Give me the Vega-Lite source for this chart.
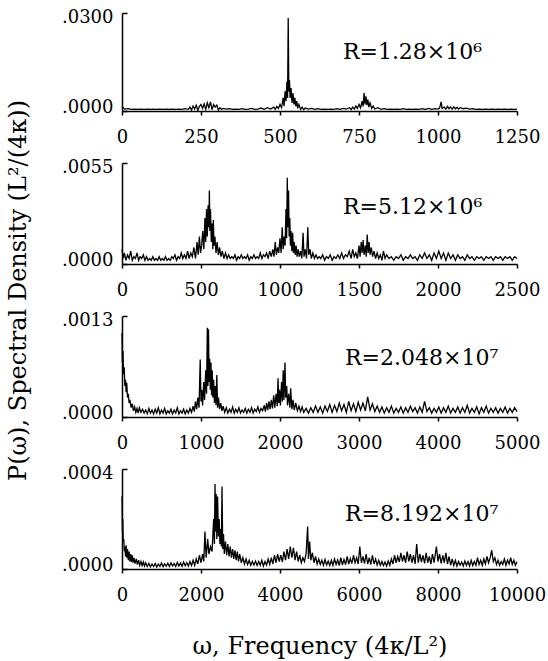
{
"$schema": "https://vega.github.io/schema/vega-lite/v6.json",
"background": "white",
"padding": {"left": 5, "top": 8, "right": 5, "bottom": 5},
"spacing": 52,
"bounds": "flush",
"config": {
  "view": {"stroke": null},
  "axis": {"grid": false, "domainColor": "black", "domainWidth": 1.5, "tickColor": "black", "tickWidth": 1.5, "labelColor": "black", "labelFont": "DejaVu Serif", "labelFontSize": 18, "titleFont": "DejaVu Serif", "titleFontWeight": "normal", "titleColor": "black", "titleFontSize": 24, "labelFlush": false, "labelOverlap": false},
  "axisX": {"tickSize": 4, "labelPadding": 13, "format": "d"},
  "axisY": {"tickSize": -5, "labelPadding": 14, "labelOffset": {"condition": {"test": "datum.value == 0", "value": -4}, "value": 4}, "labelExpr": "substring(format(datum.value, '.4f'), 1)"},
  "text": {"font": "DejaVu Serif", "fontSize": 22, "color": "black", "align": "left", "baseline": "middle"},
  "line": {"color": "black", "strokeWidth": 1.3, "clip": true}
},
"datasets": {
"p1": [{"w":0,"v":14e-4},{"w":5,"v":8e-4},{"w":10,"v":6e-4},{"w":20,"v":7e-4},{"w":30,"v":5e-4},{"w":40,"v":6e-4},{"w":50,"v":5e-4},{"w":60,"v":6e-4},{"w":70,"v":5e-4},{"w":80,"v":6e-4},{"w":90,"v":5e-4},{"w":100,"v":6e-4},{"w":110,"v":5e-4},{"w":120,"v":6e-4},{"w":130,"v":5e-4},{"w":140,"v":6e-4},{"w":150,"v":5e-4},{"w":160,"v":6e-4},{"w":170,"v":5e-4},{"w":180,"v":6e-4},{"w":190,"v":5e-4},{"w":200,"v":7e-4},{"w":210,"v":5e-4},{"w":215,"v":12e-4},{"w":220,"v":3e-4},{"w":225,"v":15e-4},{"w":230,"v":6e-4},{"w":235,"v":18e-4},{"w":240,"v":2e-4},{"w":245,"v":14e-4},{"w":250,"v":20e-4},{"w":255,"v":8e-4},{"w":260,"v":22e-4},{"w":265,"v":5e-4},{"w":270,"v":25e-4},{"w":275,"v":10e-4},{"w":280,"v":28e-4},{"w":285,"v":4e-4},{"w":290,"v":20e-4},{"w":295,"v":12e-4},{"w":300,"v":18e-4},{"w":305,"v":3e-4},{"w":310,"v":10e-4},{"w":315,"v":5e-4},{"w":320,"v":8e-4},{"w":330,"v":6e-4},{"w":340,"v":7e-4},{"w":350,"v":5e-4},{"w":360,"v":6e-4},{"w":370,"v":5e-4},{"w":380,"v":7e-4},{"w":390,"v":5e-4},{"w":400,"v":6e-4},{"w":410,"v":8e-4},{"w":420,"v":5e-4},{"w":430,"v":6e-4},{"w":440,"v":9e-4},{"w":450,"v":5e-4},{"w":460,"v":10e-4},{"w":470,"v":6e-4},{"w":480,"v":12e-4},{"w":485,"v":5e-4},{"w":490,"v":14e-4},{"w":495,"v":8e-4},{"w":500,"v":20e-4},{"w":505,"v":10e-4},{"w":510,"v":40e-4},{"w":513,"v":15e-4},{"w":516,"v":60e-4},{"w":519,"v":30e-4},{"w":522,"v":90e-4},{"w":524,"v":40e-4},{"w":526,"v":285e-4},{"w":528,"v":60e-4},{"w":530,"v":95e-4},{"w":532,"v":40e-4},{"w":535,"v":70e-4},{"w":538,"v":25e-4},{"w":541,"v":55e-4},{"w":544,"v":20e-4},{"w":547,"v":40e-4},{"w":550,"v":15e-4},{"w":553,"v":30e-4},{"w":556,"v":8e-4},{"w":560,"v":20e-4},{"w":565,"v":5e-4},{"w":570,"v":12e-4},{"w":575,"v":4e-4},{"w":580,"v":9e-4},{"w":590,"v":6e-4},{"w":600,"v":8e-4},{"w":610,"v":5e-4},{"w":620,"v":7e-4},{"w":630,"v":5e-4},{"w":640,"v":6e-4},{"w":650,"v":5e-4},{"w":660,"v":6e-4},{"w":670,"v":5e-4},{"w":680,"v":7e-4},{"w":690,"v":5e-4},{"w":700,"v":8e-4},{"w":710,"v":6e-4},{"w":720,"v":10e-4},{"w":725,"v":4e-4},{"w":730,"v":12e-4},{"w":735,"v":6e-4},{"w":740,"v":15e-4},{"w":745,"v":8e-4},{"w":750,"v":20e-4},{"w":755,"v":10e-4},{"w":760,"v":30e-4},{"w":763,"v":14e-4},{"w":766,"v":55e-4},{"w":769,"v":20e-4},{"w":772,"v":45e-4},{"w":775,"v":18e-4},{"w":778,"v":35e-4},{"w":781,"v":12e-4},{"w":785,"v":25e-4},{"w":790,"v":8e-4},{"w":795,"v":15e-4},{"w":800,"v":6e-4},{"w":810,"v":10e-4},{"w":820,"v":5e-4},{"w":830,"v":7e-4},{"w":840,"v":5e-4},{"w":850,"v":6e-4},{"w":860,"v":5e-4},{"w":870,"v":6e-4},{"w":880,"v":5e-4},{"w":890,"v":7e-4},{"w":900,"v":5e-4},{"w":910,"v":6e-4},{"w":920,"v":5e-4},{"w":930,"v":6e-4},{"w":940,"v":5e-4},{"w":950,"v":7e-4},{"w":960,"v":5e-4},{"w":970,"v":8e-4},{"w":980,"v":5e-4},{"w":990,"v":7e-4},{"w":1000,"v":6e-4},{"w":1005,"v":9e-4},{"w":1010,"v":28e-4},{"w":1013,"v":8e-4},{"w":1020,"v":12e-4},{"w":1025,"v":6e-4},{"w":1030,"v":14e-4},{"w":1035,"v":7e-4},{"w":1040,"v":12e-4},{"w":1045,"v":6e-4},{"w":1050,"v":13e-4},{"w":1055,"v":7e-4},{"w":1060,"v":11e-4},{"w":1065,"v":6e-4},{"w":1070,"v":10e-4},{"w":1080,"v":7e-4},{"w":1090,"v":9e-4},{"w":1100,"v":6e-4},{"w":1110,"v":7e-4},{"w":1120,"v":5e-4},{"w":1130,"v":6e-4},{"w":1140,"v":5e-4},{"w":1150,"v":6e-4},{"w":1160,"v":5e-4},{"w":1170,"v":6e-4},{"w":1180,"v":5e-4},{"w":1190,"v":6e-4},{"w":1200,"v":5e-4},{"w":1210,"v":6e-4},{"w":1220,"v":5e-4},{"w":1230,"v":6e-4},{"w":1240,"v":5e-4},{"w":1250,"v":6e-4}],
"p2": [{"w":0,"v":8e-4},{"w":8,"v":3e-4},{"w":15,"v":6e-4},{"w":25,"v":2e-4},{"w":35,"v":5e-4},{"w":45,"v":3e-4},{"w":55,"v":7e-4},{"w":65,"v":2e-4},{"w":75,"v":4e-4},{"w":85,"v":3e-4},{"w":95,"v":6e-4},{"w":105,"v":2e-4},{"w":115,"v":4e-4},{"w":125,"v":3e-4},{"w":135,"v":5e-4},{"w":145,"v":2e-4},{"w":155,"v":4e-4},{"w":165,"v":2e-4},{"w":175,"v":3e-4},{"w":185,"v":2e-4},{"w":195,"v":4e-4},{"w":205,"v":2e-4},{"w":215,"v":3e-4},{"w":225,"v":2e-4},{"w":235,"v":4e-4},{"w":245,"v":2e-4},{"w":255,"v":3e-4},{"w":265,"v":2e-4},{"w":275,"v":4e-4},{"w":285,"v":2e-4},{"w":295,"v":3e-4},{"w":305,"v":2e-4},{"w":315,"v":4e-4},{"w":325,"v":3e-4},{"w":335,"v":5e-4},{"w":345,"v":2e-4},{"w":355,"v":4e-4},{"w":365,"v":3e-4},{"w":375,"v":6e-4},{"w":385,"v":3e-4},{"w":395,"v":5e-4},{"w":405,"v":3e-4},{"w":415,"v":7e-4},{"w":425,"v":3e-4},{"w":435,"v":6e-4},{"w":445,"v":4e-4},{"w":455,"v":9e-4},{"w":465,"v":3e-4},{"w":475,"v":12e-4},{"w":482,"v":5e-4},{"w":490,"v":15e-4},{"w":497,"v":6e-4},{"w":504,"v":10e-4},{"w":511,"v":18e-4},{"w":518,"v":8e-4},{"w":525,"v":25e-4},{"w":530,"v":12e-4},{"w":535,"v":30e-4},{"w":540,"v":15e-4},{"w":545,"v":32e-4},{"w":550,"v":20e-4},{"w":553,"v":40e-4},{"w":556,"v":18e-4},{"w":560,"v":30e-4},{"w":565,"v":12e-4},{"w":570,"v":22e-4},{"w":575,"v":8e-4},{"w":578,"v":24e-4},{"w":582,"v":10e-4},{"w":588,"v":15e-4},{"w":595,"v":6e-4},{"w":602,"v":12e-4},{"w":610,"v":5e-4},{"w":618,"v":9e-4},{"w":626,"v":4e-4},{"w":635,"v":7e-4},{"w":645,"v":3e-4},{"w":655,"v":6e-4},{"w":665,"v":3e-4},{"w":675,"v":5e-4},{"w":685,"v":3e-4},{"w":695,"v":4e-4},{"w":705,"v":3e-4},{"w":715,"v":5e-4},{"w":725,"v":2e-4},{"w":735,"v":4e-4},{"w":745,"v":3e-4},{"w":755,"v":5e-4},{"w":765,"v":3e-4},{"w":775,"v":4e-4},{"w":785,"v":3e-4},{"w":795,"v":5e-4},{"w":805,"v":2e-4},{"w":815,"v":4e-4},{"w":825,"v":3e-4},{"w":835,"v":5e-4},{"w":845,"v":3e-4},{"w":855,"v":4e-4},{"w":865,"v":3e-4},{"w":875,"v":6e-4},{"w":885,"v":3e-4},{"w":895,"v":5e-4},{"w":905,"v":4e-4},{"w":915,"v":6e-4},{"w":925,"v":3e-4},{"w":935,"v":7e-4},{"w":945,"v":4e-4},{"w":955,"v":8e-4},{"w":962,"v":4e-4},{"w":970,"v":12e-4},{"w":977,"v":5e-4},{"w":985,"v":9e-4},{"w":992,"v":6e-4},{"w":1000,"v":14e-4},{"w":1007,"v":6e-4},{"w":1014,"v":20e-4},{"w":1020,"v":8e-4},{"w":1026,"v":15e-4},{"w":1032,"v":10e-4},{"w":1038,"v":30e-4},{"w":1042,"v":14e-4},{"w":1046,"v":47e-4},{"w":1050,"v":20e-4},{"w":1054,"v":40e-4},{"w":1058,"v":15e-4},{"w":1062,"v":25e-4},{"w":1066,"v":10e-4},{"w":1070,"v":18e-4},{"w":1075,"v":7e-4},{"w":1080,"v":17e-4},{"w":1085,"v":6e-4},{"w":1090,"v":12e-4},{"w":1096,"v":5e-4},{"w":1102,"v":10e-4},{"w":1108,"v":4e-4},{"w":1115,"v":8e-4},{"w":1122,"v":4e-4},{"w":1130,"v":7e-4},{"w":1138,"v":3e-4},{"w":1146,"v":17e-4},{"w":1152,"v":4e-4},{"w":1160,"v":8e-4},{"w":1168,"v":3e-4},{"w":1176,"v":20e-4},{"w":1182,"v":5e-4},{"w":1190,"v":8e-4},{"w":1198,"v":3e-4},{"w":1208,"v":6e-4},{"w":1218,"v":3e-4},{"w":1228,"v":5e-4},{"w":1238,"v":3e-4},{"w":1248,"v":4e-4},{"w":1258,"v":3e-4},{"w":1270,"v":5e-4},{"w":1282,"v":2e-4},{"w":1294,"v":4e-4},{"w":1306,"v":3e-4},{"w":1318,"v":5e-4},{"w":1330,"v":2e-4},{"w":1342,"v":4e-4},{"w":1354,"v":3e-4},{"w":1366,"v":5e-4},{"w":1378,"v":3e-4},{"w":1390,"v":6e-4},{"w":1402,"v":3e-4},{"w":1414,"v":5e-4},{"w":1426,"v":4e-4},{"w":1438,"v":7e-4},{"w":1450,"v":3e-4},{"w":1460,"v":8e-4},{"w":1470,"v":4e-4},{"w":1480,"v":6e-4},{"w":1490,"v":3e-4},{"w":1500,"v":10e-4},{"w":1507,"v":4e-4},{"w":1514,"v":12e-4},{"w":1520,"v":6e-4},{"w":1526,"v":13e-4},{"w":1532,"v":5e-4},{"w":1540,"v":10e-4},{"w":1546,"v":4e-4},{"w":1552,"v":16e-4},{"w":1558,"v":6e-4},{"w":1564,"v":12e-4},{"w":1570,"v":5e-4},{"w":1578,"v":9e-4},{"w":1586,"v":4e-4},{"w":1595,"v":7e-4},{"w":1605,"v":3e-4},{"w":1615,"v":6e-4},{"w":1625,"v":3e-4},{"w":1635,"v":5e-4},{"w":1645,"v":2e-4},{"w":1655,"v":7e-4},{"w":1665,"v":3e-4},{"w":1675,"v":5e-4},{"w":1690,"v":3e-4},{"w":1705,"v":4e-4},{"w":1720,"v":2e-4},{"w":1735,"v":4e-4},{"w":1750,"v":3e-4},{"w":1765,"v":5e-4},{"w":1780,"v":2e-4},{"w":1795,"v":4e-4},{"w":1810,"v":3e-4},{"w":1825,"v":5e-4},{"w":1840,"v":3e-4},{"w":1855,"v":4e-4},{"w":1870,"v":2e-4},{"w":1885,"v":5e-4},{"w":1900,"v":3e-4},{"w":1915,"v":6e-4},{"w":1930,"v":3e-4},{"w":1945,"v":5e-4},{"w":1960,"v":2e-4},{"w":1975,"v":6e-4},{"w":1990,"v":3e-4},{"w":2005,"v":7e-4},{"w":2020,"v":3e-4},{"w":2035,"v":6e-4},{"w":2050,"v":2e-4},{"w":2065,"v":6e-4},{"w":2080,"v":3e-4},{"w":2095,"v":5e-4},{"w":2110,"v":2e-4},{"w":2125,"v":5e-4},{"w":2140,"v":3e-4},{"w":2155,"v":4e-4},{"w":2170,"v":2e-4},{"w":2185,"v":5e-4},{"w":2200,"v":3e-4},{"w":2215,"v":4e-4},{"w":2230,"v":2e-4},{"w":2245,"v":4e-4},{"w":2260,"v":3e-4},{"w":2275,"v":4e-4},{"w":2290,"v":2e-4},{"w":2305,"v":4e-4},{"w":2320,"v":3e-4},{"w":2335,"v":4e-4},{"w":2350,"v":2e-4},{"w":2365,"v":4e-4},{"w":2380,"v":3e-4},{"w":2395,"v":4e-4},{"w":2410,"v":2e-4},{"w":2425,"v":4e-4},{"w":2440,"v":3e-4},{"w":2455,"v":4e-4},{"w":2470,"v":2e-4},{"w":2485,"v":4e-4},{"w":2500,"v":3e-4}],
"p3": [{"w":0,"v":108e-5},{"w":5,"v":70e-5},{"w":12,"v":85e-5},{"w":20,"v":55e-5},{"w":28,"v":64e-5},{"w":36,"v":40e-5},{"w":44,"v":48e-5},{"w":52,"v":32e-5},{"w":60,"v":44e-5},{"w":70,"v":25e-5},{"w":80,"v":30e-5},{"w":90,"v":18e-5},{"w":100,"v":22e-5},{"w":115,"v":12e-5},{"w":130,"v":17e-5},{"w":145,"v":8e-5},{"w":160,"v":13e-5},{"w":175,"v":6e-5},{"w":190,"v":11e-5},{"w":205,"v":5e-5},{"w":220,"v":12e-5},{"w":240,"v":6e-5},{"w":260,"v":10e-5},{"w":280,"v":5e-5},{"w":300,"v":9e-5},{"w":320,"v":4e-5},{"w":340,"v":11e-5},{"w":360,"v":5e-5},{"w":380,"v":9e-5},{"w":400,"v":4e-5},{"w":420,"v":10e-5},{"w":440,"v":5e-5},{"w":460,"v":12e-5},{"w":480,"v":4e-5},{"w":500,"v":9e-5},{"w":520,"v":5e-5},{"w":540,"v":11e-5},{"w":560,"v":4e-5},{"w":580,"v":8e-5},{"w":600,"v":5e-5},{"w":620,"v":10e-5},{"w":640,"v":4e-5},{"w":660,"v":9e-5},{"w":680,"v":5e-5},{"w":700,"v":12e-5},{"w":720,"v":4e-5},{"w":740,"v":8e-5},{"w":760,"v":5e-5},{"w":780,"v":10e-5},{"w":800,"v":4e-5},{"w":820,"v":9e-5},{"w":840,"v":5e-5},{"w":860,"v":11e-5},{"w":880,"v":6e-5},{"w":900,"v":14e-5},{"w":915,"v":7e-5},{"w":930,"v":20e-5},{"w":945,"v":10e-5},{"w":960,"v":25e-5},{"w":975,"v":12e-5},{"w":990,"v":74e-5},{"w":1000,"v":20e-5},{"w":1010,"v":35e-5},{"w":1020,"v":15e-5},{"w":1035,"v":45e-5},{"w":1045,"v":22e-5},{"w":1060,"v":60e-5},{"w":1070,"v":30e-5},{"w":1080,"v":115e-5},{"w":1088,"v":40e-5},{"w":1095,"v":113e-5},{"w":1102,"v":45e-5},{"w":1110,"v":75e-5},{"w":1118,"v":35e-5},{"w":1126,"v":70e-5},{"w":1134,"v":28e-5},{"w":1142,"v":60e-5},{"w":1150,"v":25e-5},{"w":1160,"v":48e-5},{"w":1170,"v":18e-5},{"w":1180,"v":40e-5},{"w":1190,"v":15e-5},{"w":1200,"v":54e-5},{"w":1210,"v":12e-5},{"w":1222,"v":25e-5},{"w":1235,"v":10e-5},{"w":1250,"v":18e-5},{"w":1265,"v":8e-5},{"w":1280,"v":14e-5},{"w":1300,"v":6e-5},{"w":1320,"v":12e-5},{"w":1340,"v":5e-5},{"w":1360,"v":10e-5},{"w":1380,"v":6e-5},{"w":1400,"v":13e-5},{"w":1420,"v":5e-5},{"w":1440,"v":10e-5},{"w":1460,"v":6e-5},{"w":1480,"v":12e-5},{"w":1500,"v":5e-5},{"w":1520,"v":9e-5},{"w":1540,"v":6e-5},{"w":1560,"v":11e-5},{"w":1580,"v":5e-5},{"w":1600,"v":10e-5},{"w":1620,"v":6e-5},{"w":1640,"v":12e-5},{"w":1660,"v":5e-5},{"w":1680,"v":10e-5},{"w":1700,"v":7e-5},{"w":1720,"v":13e-5},{"w":1740,"v":6e-5},{"w":1760,"v":11e-5},{"w":1780,"v":8e-5},{"w":1800,"v":15e-5},{"w":1815,"v":7e-5},{"w":1830,"v":18e-5},{"w":1845,"v":9e-5},{"w":1860,"v":20e-5},{"w":1875,"v":10e-5},{"w":1890,"v":22e-5},{"w":1905,"v":11e-5},{"w":1920,"v":28e-5},{"w":1935,"v":12e-5},{"w":1950,"v":30e-5},{"w":1965,"v":14e-5},{"w":1975,"v":50e-5},{"w":1985,"v":18e-5},{"w":1995,"v":35e-5},{"w":2005,"v":15e-5},{"w":2020,"v":45e-5},{"w":2030,"v":20e-5},{"w":2040,"v":60e-5},{"w":2050,"v":22e-5},{"w":2063,"v":70e-5},{"w":2072,"v":25e-5},{"w":2085,"v":40e-5},{"w":2095,"v":15e-5},{"w":2110,"v":30e-5},{"w":2125,"v":12e-5},{"w":2135,"v":37e-5},{"w":2150,"v":10e-5},{"w":2165,"v":22e-5},{"w":2180,"v":9e-5},{"w":2200,"v":18e-5},{"w":2220,"v":8e-5},{"w":2240,"v":14e-5},{"w":2260,"v":7e-5},{"w":2280,"v":13e-5},{"w":2300,"v":6e-5},{"w":2330,"v":11e-5},{"w":2360,"v":5e-5},{"w":2390,"v":12e-5},{"w":2420,"v":6e-5},{"w":2450,"v":14e-5},{"w":2480,"v":6e-5},{"w":2510,"v":13e-5},{"w":2540,"v":5e-5},{"w":2570,"v":14e-5},{"w":2600,"v":7e-5},{"w":2630,"v":16e-5},{"w":2660,"v":6e-5},{"w":2690,"v":15e-5},{"w":2720,"v":7e-5},{"w":2750,"v":18e-5},{"w":2780,"v":8e-5},{"w":2810,"v":16e-5},{"w":2840,"v":6e-5},{"w":2870,"v":20e-5},{"w":2900,"v":8e-5},{"w":2930,"v":17e-5},{"w":2960,"v":7e-5},{"w":2990,"v":19e-5},{"w":3020,"v":9e-5},{"w":3050,"v":18e-5},{"w":3080,"v":8e-5},{"w":3110,"v":26e-5},{"w":3140,"v":9e-5},{"w":3170,"v":17e-5},{"w":3200,"v":7e-5},{"w":3230,"v":14e-5},{"w":3260,"v":6e-5},{"w":3290,"v":13e-5},{"w":3320,"v":5e-5},{"w":3350,"v":12e-5},{"w":3380,"v":6e-5},{"w":3410,"v":14e-5},{"w":3440,"v":5e-5},{"w":3470,"v":11e-5},{"w":3500,"v":6e-5},{"w":3530,"v":13e-5},{"w":3560,"v":5e-5},{"w":3590,"v":12e-5},{"w":3620,"v":6e-5},{"w":3650,"v":14e-5},{"w":3680,"v":7e-5},{"w":3710,"v":12e-5},{"w":3740,"v":5e-5},{"w":3770,"v":13e-5},{"w":3800,"v":6e-5},{"w":3830,"v":20e-5},{"w":3860,"v":7e-5},{"w":3890,"v":12e-5},{"w":3920,"v":5e-5},{"w":3950,"v":11e-5},{"w":3980,"v":6e-5},{"w":4010,"v":13e-5},{"w":4040,"v":5e-5},{"w":4070,"v":12e-5},{"w":4100,"v":6e-5},{"w":4130,"v":14e-5},{"w":4160,"v":5e-5},{"w":4190,"v":11e-5},{"w":4220,"v":6e-5},{"w":4250,"v":13e-5},{"w":4280,"v":5e-5},{"w":4310,"v":12e-5},{"w":4340,"v":6e-5},{"w":4370,"v":15e-5},{"w":4400,"v":5e-5},{"w":4430,"v":11e-5},{"w":4460,"v":6e-5},{"w":4490,"v":13e-5},{"w":4520,"v":4e-5},{"w":4550,"v":12e-5},{"w":4580,"v":6e-5},{"w":4610,"v":14e-5},{"w":4640,"v":5e-5},{"w":4670,"v":11e-5},{"w":4700,"v":6e-5},{"w":4730,"v":12e-5},{"w":4760,"v":5e-5},{"w":4790,"v":11e-5},{"w":4820,"v":6e-5},{"w":4850,"v":13e-5},{"w":4880,"v":5e-5},{"w":4910,"v":11e-5},{"w":4940,"v":6e-5},{"w":4970,"v":12e-5},{"w":5000,"v":7e-5}],
"p4": [{"w":0,"v":290e-6},{"w":10,"v":150e-6},{"w":20,"v":200e-6},{"w":30,"v":110e-6},{"w":45,"v":120e-6},{"w":60,"v":70e-6},{"w":75,"v":90e-6},{"w":90,"v":50e-6},{"w":105,"v":95e-6},{"w":120,"v":45e-6},{"w":140,"v":80e-6},{"w":160,"v":35e-6},{"w":180,"v":70e-6},{"w":200,"v":30e-6},{"w":220,"v":60e-6},{"w":240,"v":28e-6},{"w":260,"v":55e-6},{"w":280,"v":25e-6},{"w":300,"v":45e-6},{"w":330,"v":22e-6},{"w":360,"v":40e-6},{"w":390,"v":18e-6},{"w":420,"v":35e-6},{"w":450,"v":15e-6},{"w":480,"v":30e-6},{"w":510,"v":14e-6},{"w":540,"v":28e-6},{"w":570,"v":12e-6},{"w":600,"v":25e-6},{"w":640,"v":10e-6},{"w":680,"v":22e-6},{"w":720,"v":9e-6},{"w":760,"v":20e-6},{"w":800,"v":10e-6},{"w":840,"v":22e-6},{"w":880,"v":8e-6},{"w":920,"v":20e-6},{"w":960,"v":10e-6},{"w":1000,"v":24e-6},{"w":1040,"v":9e-6},{"w":1080,"v":21e-6},{"w":1120,"v":11e-6},{"w":1160,"v":23e-6},{"w":1200,"v":10e-6},{"w":1240,"v":25e-6},{"w":1280,"v":12e-6},{"w":1320,"v":22e-6},{"w":1360,"v":10e-6},{"w":1400,"v":26e-6},{"w":1440,"v":12e-6},{"w":1480,"v":24e-6},{"w":1520,"v":11e-6},{"w":1560,"v":28e-6},{"w":1600,"v":13e-6},{"w":1640,"v":25e-6},{"w":1680,"v":12e-6},{"w":1720,"v":30e-6},{"w":1760,"v":14e-6},{"w":1800,"v":35e-6},{"w":1840,"v":15e-6},{"w":1880,"v":40e-6},{"w":1920,"v":20e-6},{"w":1960,"v":55e-6},{"w":2000,"v":25e-6},{"w":2040,"v":60e-6},{"w":2070,"v":30e-6},{"w":2100,"v":150e-6},{"w":2130,"v":45e-6},{"w":2170,"v":120e-6},{"w":2200,"v":60e-6},{"w":2240,"v":90e-6},{"w":2280,"v":70e-6},{"w":2320,"v":200e-6},{"w":2340,"v":100e-6},{"w":2355,"v":340e-6},{"w":2370,"v":150e-6},{"w":2385,"v":300e-6},{"w":2400,"v":120e-6},{"w":2420,"v":290e-6},{"w":2440,"v":130e-6},{"w":2460,"v":200e-6},{"w":2480,"v":100e-6},{"w":2500,"v":160e-6},{"w":2515,"v":90e-6},{"w":2532,"v":330e-6},{"w":2550,"v":80e-6},{"w":2570,"v":140e-6},{"w":2590,"v":60e-6},{"w":2620,"v":110e-6},{"w":2650,"v":55e-6},{"w":2680,"v":100e-6},{"w":2710,"v":50e-6},{"w":2740,"v":90e-6},{"w":2770,"v":45e-6},{"w":2800,"v":80e-6},{"w":2830,"v":40e-6},{"w":2860,"v":75e-6},{"w":2890,"v":35e-6},{"w":2920,"v":70e-6},{"w":2950,"v":30e-6},{"w":2980,"v":60e-6},{"w":3020,"v":25e-6},{"w":3060,"v":45e-6},{"w":3100,"v":20e-6},{"w":3140,"v":40e-6},{"w":3180,"v":18e-6},{"w":3220,"v":35e-6},{"w":3260,"v":15e-6},{"w":3300,"v":30e-6},{"w":3340,"v":16e-6},{"w":3380,"v":32e-6},{"w":3420,"v":14e-6},{"w":3460,"v":30e-6},{"w":3500,"v":15e-6},{"w":3540,"v":35e-6},{"w":3580,"v":12e-6},{"w":3620,"v":30e-6},{"w":3660,"v":16e-6},{"w":3700,"v":40e-6},{"w":3740,"v":18e-6},{"w":3780,"v":45e-6},{"w":3820,"v":20e-6},{"w":3860,"v":55e-6},{"w":3900,"v":25e-6},{"w":3940,"v":60e-6},{"w":3980,"v":30e-6},{"w":4020,"v":55e-6},{"w":4060,"v":28e-6},{"w":4100,"v":70e-6},{"w":4140,"v":35e-6},{"w":4180,"v":80e-6},{"w":4220,"v":40e-6},{"w":4260,"v":90e-6},{"w":4300,"v":45e-6},{"w":4340,"v":85e-6},{"w":4380,"v":35e-6},{"w":4420,"v":70e-6},{"w":4460,"v":30e-6},{"w":4500,"v":55e-6},{"w":4540,"v":25e-6},{"w":4580,"v":45e-6},{"w":4620,"v":30e-6},{"w":4660,"v":60e-6},{"w":4700,"v":170e-6},{"w":4720,"v":40e-6},{"w":4750,"v":110e-6},{"w":4780,"v":35e-6},{"w":4820,"v":65e-6},{"w":4860,"v":25e-6},{"w":4900,"v":50e-6},{"w":4940,"v":20e-6},{"w":4980,"v":40e-6},{"w":5020,"v":18e-6},{"w":5060,"v":35e-6},{"w":5100,"v":15e-6},{"w":5140,"v":38e-6},{"w":5180,"v":16e-6},{"w":5220,"v":32e-6},{"w":5260,"v":14e-6},{"w":5300,"v":35e-6},{"w":5340,"v":15e-6},{"w":5380,"v":40e-6},{"w":5420,"v":18e-6},{"w":5460,"v":36e-6},{"w":5500,"v":14e-6},{"w":5540,"v":45e-6},{"w":5580,"v":16e-6},{"w":5620,"v":38e-6},{"w":5660,"v":18e-6},{"w":5700,"v":50e-6},{"w":5740,"v":20e-6},{"w":5780,"v":42e-6},{"w":5820,"v":22e-6},{"w":5860,"v":55e-6},{"w":5900,"v":25e-6},{"w":5940,"v":45e-6},{"w":5980,"v":20e-6},{"w":6020,"v":90e-6},{"w":6060,"v":25e-6},{"w":6100,"v":50e-6},{"w":6140,"v":22e-6},{"w":6180,"v":60e-6},{"w":6220,"v":20e-6},{"w":6260,"v":45e-6},{"w":6300,"v":18e-6},{"w":6340,"v":55e-6},{"w":6380,"v":20e-6},{"w":6420,"v":40e-6},{"w":6460,"v":16e-6},{"w":6500,"v":35e-6},{"w":6540,"v":15e-6},{"w":6580,"v":30e-6},{"w":6620,"v":14e-6},{"w":6660,"v":28e-6},{"w":6700,"v":12e-6},{"w":6740,"v":32e-6},{"w":6780,"v":15e-6},{"w":6820,"v":40e-6},{"w":6860,"v":20e-6},{"w":6900,"v":55e-6},{"w":6940,"v":25e-6},{"w":6980,"v":50e-6},{"w":7020,"v":28e-6},{"w":7060,"v":65e-6},{"w":7100,"v":30e-6},{"w":7140,"v":55e-6},{"w":7180,"v":25e-6},{"w":7220,"v":70e-6},{"w":7260,"v":30e-6},{"w":7300,"v":60e-6},{"w":7340,"v":25e-6},{"w":7380,"v":55e-6},{"w":7420,"v":20e-6},{"w":7460,"v":100e-6},{"w":7500,"v":25e-6},{"w":7540,"v":60e-6},{"w":7580,"v":28e-6},{"w":7620,"v":55e-6},{"w":7660,"v":22e-6},{"w":7700,"v":65e-6},{"w":7740,"v":25e-6},{"w":7780,"v":50e-6},{"w":7820,"v":20e-6},{"w":7860,"v":60e-6},{"w":7900,"v":25e-6},{"w":7960,"v":90e-6},{"w":8000,"v":30e-6},{"w":8040,"v":60e-6},{"w":8080,"v":22e-6},{"w":8120,"v":55e-6},{"w":8160,"v":25e-6},{"w":8200,"v":65e-6},{"w":8240,"v":20e-6},{"w":8280,"v":50e-6},{"w":8320,"v":15e-6},{"w":8360,"v":40e-6},{"w":8400,"v":14e-6},{"w":8440,"v":35e-6},{"w":8480,"v":12e-6},{"w":8520,"v":30e-6},{"w":8560,"v":15e-6},{"w":8600,"v":28e-6},{"w":8640,"v":12e-6},{"w":8680,"v":32e-6},{"w":8720,"v":14e-6},{"w":8760,"v":30e-6},{"w":8800,"v":12e-6},{"w":8840,"v":35e-6},{"w":8880,"v":14e-6},{"w":8920,"v":30e-6},{"w":8960,"v":15e-6},{"w":9000,"v":45e-6},{"w":9040,"v":18e-6},{"w":9080,"v":35e-6},{"w":9120,"v":15e-6},{"w":9160,"v":40e-6},{"w":9200,"v":20e-6},{"w":9240,"v":50e-6},{"w":9280,"v":25e-6},{"w":9320,"v":45e-6},{"w":9360,"v":75e-6},{"w":9400,"v":30e-6},{"w":9440,"v":45e-6},{"w":9480,"v":18e-6},{"w":9520,"v":35e-6},{"w":9560,"v":15e-6},{"w":9600,"v":30e-6},{"w":9640,"v":18e-6},{"w":9680,"v":40e-6},{"w":9720,"v":15e-6},{"w":9760,"v":35e-6},{"w":9800,"v":20e-6},{"w":9840,"v":45e-6},{"w":9880,"v":18e-6},{"w":9920,"v":35e-6},{"w":9960,"v":15e-6},{"w":10000,"v":30e-6}]
},
"vconcat": [
 {"width": 395, "height": 98,
  "layer": [
   {"data": {"name": "p1"}, "mark": "line",
    "encoding": {
     "x": {"field": "w", "type": "quantitative", "scale": {"domain": [0, 1250], "nice": false, "zero": false}, "axis": {"values": [0, 250, 500, 750, 1000, 1250], "title": null}},
     "y": {"field": "v", "type": "quantitative", "scale": {"domain": [0, 0.03], "nice": false}, "axis": {"values": [0, 0.03], "title": null}}}},
   {"data": {"values": [{"w": 699, "v": 0.0181, "label": "R=1.28×10⁶"}]}, "mark": {"type": "text"},
    "encoding": {"x": {"field": "w", "type": "quantitative"}, "y": {"field": "v", "type": "quantitative"}, "text": {"field": "label"}}}
  ]},
 {"width": 395, "height": 101,
  "layer": [
   {"data": {"name": "p2"}, "mark": "line",
    "encoding": {
     "x": {"field": "w", "type": "quantitative", "scale": {"domain": [0, 2500], "nice": false, "zero": false}, "axis": {"values": [0, 500, 1000, 1500, 2000, 2500], "title": null}},
     "y": {"field": "v", "type": "quantitative", "scale": {"domain": [0, 0.0055], "nice": false}, "axis": {"values": [0, 0.0055], "title": "P(ω), Spectral Density (L²/(4κ))", "titleX": -92, "titleY": 127, "titleAngle": -90, "titleAlign": "center", "titleBaseline": "bottom"}}}},
   {"data": {"values": [{"w": 1399, "v": 0.0031, "label": "R=5.12×10⁶"}]}, "mark": {"type": "text"},
    "encoding": {"x": {"field": "w", "type": "quantitative"}, "y": {"field": "v", "type": "quantitative"}, "text": {"field": "label"}}}
  ]},
 {"width": 395, "height": 101,
  "layer": [
   {"data": {"name": "p3"}, "mark": "line",
    "encoding": {
     "x": {"field": "w", "type": "quantitative", "scale": {"domain": [0, 5000], "nice": false, "zero": false}, "axis": {"values": [0, 1000, 2000, 3000, 4000, 5000], "title": null}},
     "y": {"field": "v", "type": "quantitative", "scale": {"domain": [0, 0.0013], "nice": false}, "axis": {"values": [0, 0.0013], "title": null}}}},
   {"data": {"values": [{"w": 2823, "v": 0.00076, "label": "R=2.048×10⁷"}]}, "mark": {"type": "text"},
    "encoding": {"x": {"field": "w", "type": "quantitative"}, "y": {"field": "v", "type": "quantitative"}, "text": {"field": "label"}}}
  ]},
 {"width": 395, "height": 100,
  "layer": [
   {"data": {"name": "p4"}, "mark": "line",
    "encoding": {
     "x": {"field": "w", "type": "quantitative", "scale": {"domain": [0, 10000], "nice": false, "zero": false}, "axis": {"values": [0, 2000, 4000, 6000, 8000, 10000], "title": "ω, Frequency (4κ/L²)", "titlePadding": 30}},
     "y": {"field": "v", "type": "quantitative", "scale": {"domain": [0, 0.0004], "nice": false}, "axis": {"values": [0, 0.0004], "title": null}}}},
   {"data": {"values": [{"w": 5646, "v": 0.00022, "label": "R=8.192×10⁷"}]}, "mark": {"type": "text"},
    "encoding": {"x": {"field": "w", "type": "quantitative"}, "y": {"field": "v", "type": "quantitative"}, "text": {"field": "label"}}}
  ]}
]
}
